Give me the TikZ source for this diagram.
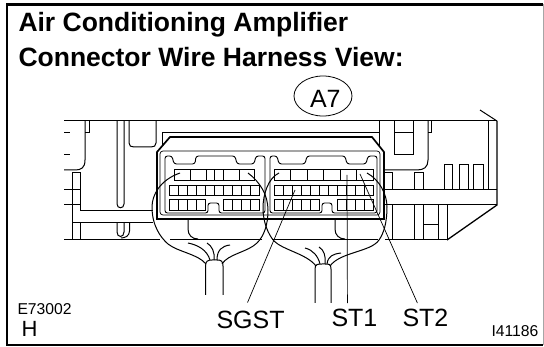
\documentclass[tikz,border=0pt]{standalone}
\usepackage{fontspec}
\setmainfont{Liberation Sans}
\usetikzlibrary{shapes.geometric}
\tikzset{
 titletext/.style={anchor=base west,inner sep=0pt,font=\fontsize{26.5}{26.5}\selectfont\bfseries},
 bigtext/.style={anchor=base west,inner sep=0pt,font=\fontsize{25}{25}\selectfont},
 smalltext/.style={anchor=base west,inner sep=0pt,font=\fontsize{15.7}{15.7}\selectfont},
 thin line/.style={line width=0.7pt},
 thick line/.style={line width=1.7pt},
 wire/.style={line width=0.9pt},
}
\begin{document}
\begin{tikzpicture}[x=1pt,y=-1pt,line width=1pt,line cap=butt]
\useasboundingbox (0,0) rectangle (544,347);
\fill[white] (0,0) rectangle (544,347);
\draw[line width=2.6pt] (543,4.5) -- (7,4.5) -- (7,345) -- (543,345);
\draw[line width=1pt,gray!70] (543.5,4) -- (543.5,345);
\node[titletext] (title1) at (18,32) {Air Conditioning Amplifier};
\node[titletext] (title2) at (18,66.5) {Connector Wire Harness View:};
\node[bigtext] (conn) at (309.5,108) {A7};
\node[draw,ellipse,line width=0.8pt,minimum width=58pt,minimum height=40pt,inner sep=0pt] (connring) at (323,96) {};
% housing, left side
\draw (64,121) -- (497,121);
\draw (64,240) -- (160,240);
\draw (170,240) -- (262,240);
\draw (272,240) -- (378,240);
\draw (385,240) -- (447,240);
\draw (85,121) -- (85,160) .. controls (85,168) and (81,170) .. (75,170) -- (64,170);
\draw (89,121) -- (89,133) -- (85,133);
\draw (64,133) -- (70,133);
\draw (64,155) -- (70,155);
\draw (64,190) -- (80,190);
\draw (64,205) -- (80,205);
\draw (72,240) -- (72,173) -- (80,173) -- (80,211) -- (153,211);
\draw (72,223) -- (153,223);
\draw (80,223) -- (80,240);
\draw (117,121) -- (117,204) .. controls (117,209) and (124,209) .. (124,204) -- (124,121);
\draw (117,223) -- (117,232) .. controls (117,238) and (124,238) .. (124,232) -- (124,223);
\draw (129.5,223) -- (129.5,231) .. controls (129.5,236) and (125,238) .. (121,238);
\draw (129,121) -- (129,143) .. controls (129,146) and (131,147) .. (134,147) -- (151,147) .. controls (154,147) and (156,146) .. (156,143) -- (156,121);
\draw (188,220) -- (188,229) .. controls (188,235) and (192,239) .. (198,239);
\draw (335,220) -- (335,229) .. controls (335,235) and (339,239) .. (345,239);
% housing, right side
\draw (162,146) -- (162,133) -- (379,133);
\draw (379,121) -- (379,147);
\draw (394,121) -- (394,155) -- (413,155) -- (413,121);
\draw (394,133) -- (413,133);
\draw (428,121) -- (428,160) .. controls (428,167) and (424,170) .. (417,170) -- (384,170);
\draw (431,121) -- (431,133) -- (428,133);
\draw (480,110) -- (497,121);
\draw[line width=1.3pt] (497,121) -- (497,205) -- (447,240);
\draw (488,121) -- (488,190);
\draw (384,190) -- (497,190);
\draw (384,205) -- (497,205);
\draw (384,173) -- (392,173) -- (392,190);
\draw (414,190) -- (414,173) -- (423,173) -- (423,190);
\draw (444,190) -- (444,165) -- (452,165) -- (452,190);
\draw (459,190) -- (459,165) -- (468,165) -- (468,190);
\draw (473,190) -- (473,165) -- (483,165) -- (483,190);
\draw (392,205) -- (392,240);
\draw (414,205) -- (414,240);
\draw (423,205) -- (423,240);
\draw (438,205) -- (438,240);
\draw (447,205) -- (447,240);
\draw (423,225) -- (438,225);
% connector body
\draw[thick line] (157,219) -- (157,152) -- (170,137) -- (372,137) -- (384,152) -- (384,219) -- cycle;
\draw[thin line,rounded corners=3pt] (160,215) -- (160,151) -- (380,151) -- (380,215) -- cycle;
\draw[wire,rounded corners=2.5pt] (165,213) -- (165,156) -- (172,156) -- (174,164) -- (195,164) -- (196,156) -- (235,156) -- (237,164) -- (254,164) -- (256,156) -- (265,156) -- (265,213) -- (219,213) -- (219,203) -- (208,203) -- (208,213) -- cycle;
\draw[wire,rounded corners=2.5pt] (270,213) -- (270,156) -- (277,156) -- (279,164) -- (305,164) -- (307,156) -- (345,156) -- (347,164) -- (366,164) -- (368,156) -- (377,156) -- (377,213) -- (332,213) -- (332,203) -- (322,203) -- (322,213) -- cycle;
% terminals
\foreach \xa/\xb in {174/190,190/206,206/214,214/223,223/239,239/254,274/290,290/307,307/323,323/340,340/356,356/373}
  \draw[wire] (\xa,169) rectangle (\xb,180);
\foreach \n in {0,...,9}
  \draw[wire] (169.3+9*\n,185) rectangle (178.3+9*\n,195);
\foreach \n in {0,...,10}
  \draw[wire] (274+9*\n,185) rectangle (283+9*\n,195);
\foreach \n in {0,...,3}
  \draw[wire] (169.3+9*\n,199) rectangle (178.3+9*\n,210);
\foreach \n in {0,...,3}
  \draw[wire] (223+9*\n,199) rectangle (232+9*\n,210);
\foreach \n in {0,...,4}
  \draw[wire] (274+9*\n,199) rectangle (283+9*\n,210);
\foreach \n in {0,...,3}
  \draw[wire] (337+9*\n,199) rectangle (346+9*\n,210);
% wire bundles
\draw (180,173) .. controls (160,180) and (152,195) .. (152,207) .. controls (152,225) and (160,237) .. (168,244) .. controls (178,252) and (198,254) .. (206,264);
\draw (248,173) .. controls (260,182) and (268,195) .. (268,210) .. controls (268,225) and (264,236) .. (257,243) .. controls (248,252) and (228,254) .. (222,264);
\draw (205.5,295) -- (205.5,266) .. controls (205.5,261) and (208,260) .. (212,260) -- (217,260) .. controls (221,260) and (223,261) .. (223,266) -- (223,295);
\draw (188,243) .. controls (198,245) and (207,250) .. (210,260);
\draw (207,243) .. controls (212,246) and (215,252) .. (214,260);
\draw (230,245) .. controls (222,246) and (217,250) .. (217,260);
\draw (279,173) .. controls (268,178) and (263,195) .. (263,208) .. controls (263,222) and (268,234) .. (274,241) .. controls (283,250) and (307,254) .. (316,266);
\draw (367,173) .. controls (380,180) and (387,195) .. (387,207) .. controls (387,222) and (384,233) .. (379,240) .. controls (371,252) and (340,252) .. (330,266);
\draw (315,303) -- (315,269) .. controls (315,264) and (318,264) .. (322,264) -- (325,264) .. controls (329,264) and (331,264) .. (331,269) -- (331,303);
\draw (305,248) .. controls (313,250) and (318,256) .. (320,264);
\draw (319,247) .. controls (324,250) and (326,256) .. (325,264);
\draw (341,253) .. controls (333,254) and (328,256) .. (327,264);
% labels and leaders
\node[bigtext] (sgst) at (216,328.5) {SGST};
\node[bigtext] (stone) at (331,327) {ST1};
\node[bigtext] (sttwo) at (402,327) {ST2};
\node[smalltext] (code1) at (17,315) {E73002};
\node[anchor=base west,inner sep=0pt,font=\fontsize{22}{22}\selectfont] (code2) at (21,337) {H};
\node[smalltext] (code3) at (491,337) {I41186};
\coordinate (sgsttip) at (295,190);
\coordinate (stonetip) at (347,175);
\coordinate (sttwotip) at (360,174);
\draw[thin line] (sgsttip) -- ([xshift=-3pt,yshift=8pt]sgst.north);
\draw[thin line] (stonetip) -- ([xshift=-7pt,yshift=6pt]stone.north);
\draw[thin line] (sttwotip) -- ([xshift=-8pt,yshift=6pt]sttwo.north);
\end{tikzpicture}
\end{document}
